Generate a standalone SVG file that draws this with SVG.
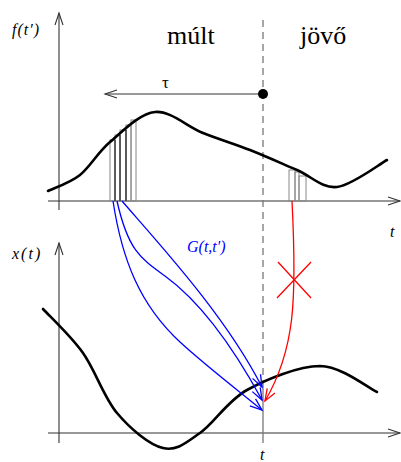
<svg xmlns="http://www.w3.org/2000/svg" width="401" height="462" viewBox="0 0 401 462">
<style>
.ax{stroke:#333;stroke-width:1.1;fill:none}
.cur{stroke:#000;stroke-width:2.6;fill:none;stroke-linecap:round}
.bar{stroke:#888;stroke-width:1;fill:none}
.bl{stroke:#00f;stroke-width:1.3;fill:none}
.rd{stroke:#f00;stroke-width:1.3;fill:none}
.lab{font-family:"Liberation Serif",serif;font-style:italic;font-size:16px;fill:#000}
.big{font-family:"Liberation Serif",serif;font-size:26px;fill:#000}
</style>
<defs>
<marker id="ah" markerUnits="userSpaceOnUse" markerWidth="16" markerHeight="12" refX="13" refY="6" orient="auto"><path d="M1,2 L13,6 L1,10" fill="none" stroke="#333" stroke-width="1.1"/></marker>
<marker id="ab" markerUnits="userSpaceOnUse" markerWidth="16" markerHeight="12" refX="13" refY="6" orient="auto"><path d="M1,1.5 L13,6 L1,10.5" fill="none" stroke="#00f" stroke-width="1.3"/></marker>
<marker id="ar" markerUnits="userSpaceOnUse" markerWidth="16" markerHeight="12" refX="13" refY="6" orient="auto"><path d="M1,1.5 L13,6 L1,10.5" fill="none" stroke="#f00" stroke-width="1.3"/></marker>
</defs>
<g id="axes-top">
<line class="ax" x1="59" y1="210" x2="59" y2="13" marker-end="url(#ah)"/>
<line class="ax" x1="48" y1="201" x2="400" y2="201" marker-end="url(#ah)"/>
<text class="lab" x="12" y="35" letter-spacing="1">f(t′)</text>
<text class="lab" x="390" y="237">t</text>
</g>
<g id="axes-bottom">
<line class="ax" x1="59" y1="443" x2="59" y2="243" marker-end="url(#ah)"/>
<line class="ax" x1="48" y1="433" x2="400" y2="433" marker-end="url(#ah)"/>
<text class="lab" x="12" y="259" letter-spacing="2">x(t)</text>
<text class="lab" x="260" y="460">t</text>
</g>
<g id="now-line">
<line x1="263" y1="20" x2="263" y2="380" stroke="#777" stroke-width="1.3" stroke-dasharray="7 5"/>
<line x1="263" y1="380" x2="263" y2="443" stroke="#777" stroke-width="1.3"/>
</g>
<g id="labels">
<text class="big" x="167" y="44">múlt</text>
<text class="big" x="300" y="44">jövő</text>
</g>
<g id="tau">
<line x1="263" y1="94" x2="105" y2="94" stroke="#333" stroke-width="1.1" marker-end="url(#ah)"/>
<circle cx="263" cy="94" r="5" fill="#000"/>
<text x="162" y="88" font-family="Liberation Serif,serif" font-size="17" fill="#000">τ</text>
</g>
<g id="bars">
<rect class="bar" x="110" y="140" width="5" height="61"/>
<rect class="bar" x="115" y="135" width="5" height="66"/>
<rect class="bar" x="120" y="130" width="6" height="71"/>
<rect class="bar" x="126" y="125" width="5" height="76"/>
<rect class="bar" x="131" y="120" width="5" height="81"/>
<line x1="115" y1="140" x2="115" y2="201" stroke="#000" stroke-width="0.9"/>
<line x1="120" y1="135" x2="120" y2="201" stroke="#000" stroke-width="0.9"/>
<line x1="126" y1="130" x2="126" y2="201" stroke="#000" stroke-width="0.9"/>
<rect class="bar" x="289" y="170" width="6" height="31"/>
<rect class="bar" x="295" y="172" width="4" height="29"/>
<rect class="bar" x="299" y="176" width="7" height="25"/>
</g>
<g id="f-curve">
<path class="cur" d="M48,191 C53.3,188.3 69.7,183.2 80,175 C90.3,166.8 97.5,152.5 110,142 C122.5,131.5 139.5,113.5 155,112 C170.5,110.5 187.2,126.7 203,133 C218.8,139.3 234.3,143.8 250,150 C265.7,156.2 282.5,163.8 297,170 C311.5,176.2 322,188.7 337,187 C352,185.3 378.7,164.5 387,160"/>
</g>
<g id="x-curve">
<path class="cur" d="M43,309 C49.7,316.3 70.7,335.7 83,353 C95.3,370.3 103.7,397.2 117,413 C130.3,428.8 149.2,444.7 163,448 C176.8,451.3 186,442.7 200,433 C214,423.3 227,401.2 247,390 C267,378.8 298.3,366.3 320,366 C341.7,366.3 367.5,387.7 377,392"/>
</g>
<g id="connectors">
<path class="bl" d="M113,201 C122,260 140,305 180,342 C205,365 235,388 262,410" marker-end="url(#ab)"/>
<path class="bl" d="M117,201 C128,250 140,258 165,276 C198,300 232,345 262,400" marker-end="url(#ab)"/>
<path class="bl" d="M122,201 C160,245 225,315 262,387" marker-end="url(#ab)"/>
<path class="rd" d="M292,201 C297,300 295,350 265,401" marker-end="url(#ar)"/>
<path class="rd" d="M278,262 L311,298 M311,262 L277,298"/>
<text x="187" y="252" font-family="Liberation Serif,serif" font-style="italic" font-size="16" fill="#00f">G(t,t′)</text>
</g>
</svg>
